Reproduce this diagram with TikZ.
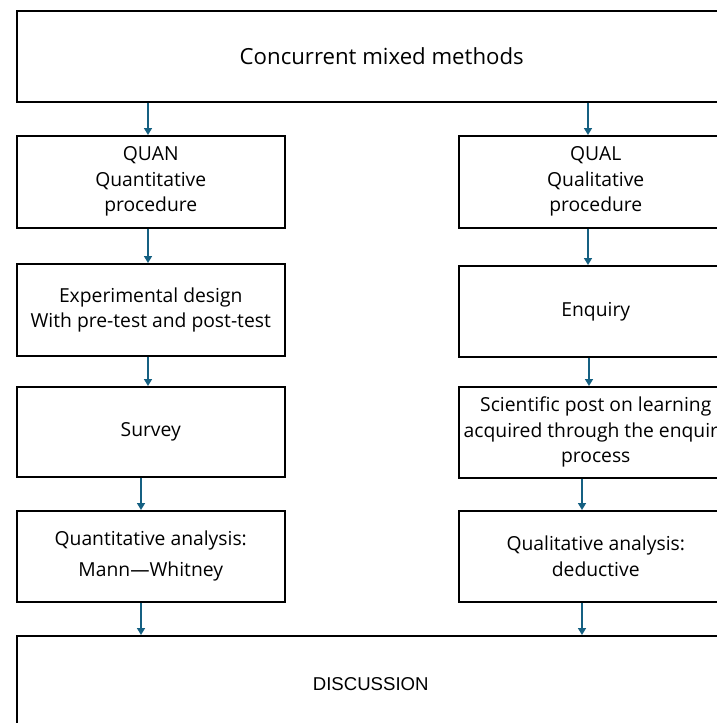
\documentclass[tikz,border=0pt]{standalone}
\usepackage{fontspec}
\setmainfont{Open Sans}
\newfontfamily\arialfont{Liberation Sans}
\usetikzlibrary{arrows.meta}
\definecolor{arrowblue}{RGB}{21,96,130}
\tikzset{
  box/.style={draw=black, line width=1.5pt, anchor=north west, inner sep=0pt, align=center, font=\fontsize{19.3}{25.5}\selectfont},
  arr/.style={draw=arrowblue, line width=1.6pt, -{Triangle[width=8pt,length=7pt]}}
}
\begin{document}
\begin{tikzpicture}[x=1pt,y=-1pt]
\useasboundingbox (0,0) rectangle (717,723);
\fill[white] (0,0) rectangle (717,723);
\clip (0,0) rectangle (717,723);
% top
\node[box, minimum width=730pt, minimum height=91pt, font=\fontsize{22.2}{26}\selectfont] (top) at (16,10) {Concurrent mixed methods};
% left column
\node[box, minimum width=268pt, minimum height=92pt] (quan) at (16,135) {QUAN\\Quantitative\\procedure};
\node[box, minimum width=268pt, minimum height=92pt] (exp) at (16,263) {Experimental design\\With pre-test and post-test};
\node[box, minimum width=268pt, minimum height=90pt] (survey) at (16,386) {Survey};
\node[box, minimum width=268pt, minimum height=91pt, font=\fontsize{19.3}{31}\selectfont] (quana) at (16,510) {Quantitative analysis:\\Mann\textemdash Whitney};
% right column
\node[box, minimum width=274pt, minimum height=92pt] (qual) at (458,135) {QUAL\\Qualitative\\procedure};
\node[box, minimum width=274pt, minimum height=91pt] (enq) at (458,265) {Enquiry};
\node[box, minimum width=274pt, minimum height=91pt] (sci) at (458,386) {Scientific post on learning\\acquired through the enquiry\\process};
\node[box, minimum width=274pt, minimum height=91pt] (quala) at (458,510) {Qualitative analysis:\\deductive};
% discussion
\node[box, minimum width=708pt, minimum height=96pt, font=\arialfont\fontsize{18.6}{22}\selectfont] (disc) at (16,635) {DISCUSSION};
% arrows left
\draw[arr] ([xshift=132pt]top.south west) -- ([xshift=132pt]quan.north west);
\draw[arr] ([xshift=132pt]quan.south west) -- ([xshift=132pt]exp.north west);
\draw[arr] ([xshift=132pt]exp.south west) -- ([xshift=132pt]survey.north west);
\draw[arr] ([xshift=125pt]survey.south west) -- ([xshift=125pt]quana.north west);
\draw[arr] ([xshift=125pt]quana.south west) -- ([xshift=125pt]disc.north west);
% arrows right
\draw[arr] ([xshift=130pt]qual.north west |- top.south) -- ([xshift=130pt]qual.north west);
\draw[arr] ([xshift=130pt]qual.south west) -- ([xshift=130pt]enq.north west);
\draw[arr] ([xshift=131pt]enq.south west) -- ([xshift=131pt]sci.north west);
\draw[arr] ([xshift=124pt]sci.south west) -- ([xshift=124pt]quala.north west);
\draw[arr] ([xshift=124pt]quala.south west) -- ([xshift=124pt]quala.south west |- disc.north);
\end{tikzpicture}
\end{document}
